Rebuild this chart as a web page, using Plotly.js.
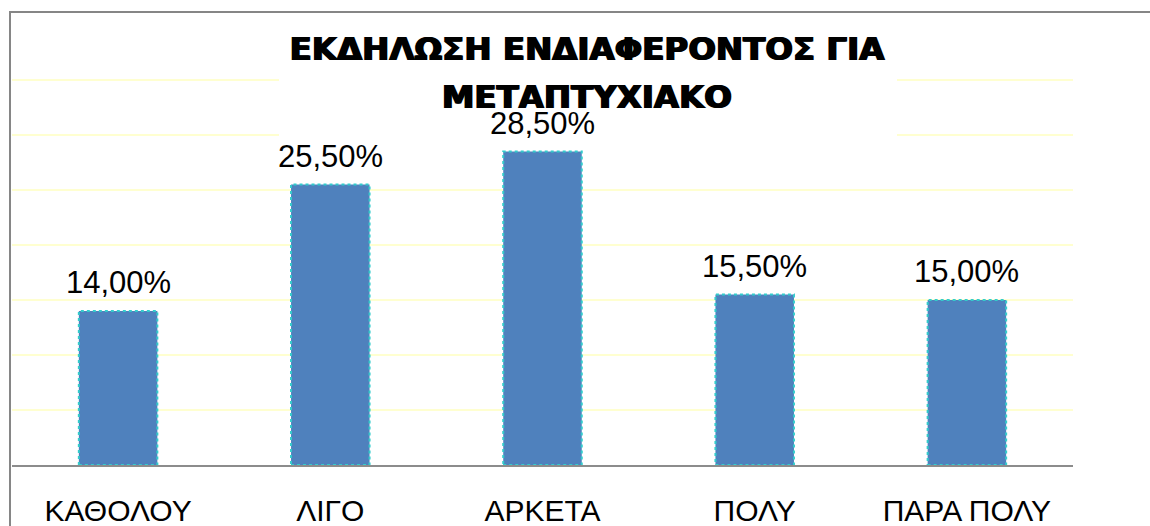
<!DOCTYPE html>
<html>
<head>
<meta charset="utf-8">
<script src="https://cdn.plot.ly/plotly-3.0.1.min.js"></script>
<style>html,body{margin:0;padding:0;background:#fff;}#chart{width:1150px;height:526px;}</style>
</head>
<body>
<div id="chart"></div>
<script>
const categories = ["ΚΑΘΟΛΟΥ", "ΛΙΓΟ", "ΑΡΚΕΤΑ", "ΠΟΛΥ", "ΠΑΡΑ ΠΟΛΥ"];
const values = [14.0, 25.5, 28.5, 15.5, 15.0];
const valueLabels = ["14,00%", "25,50%", "28,50%", "15,50%", "15,00%"];
const titleLine1 = "ΕΚΔΗΛΩΣΗ ΕΝΔΙΑΦΕΡΟΝΤΟΣ ΓΙΑ";
const titleLine2 = "ΜΕΤΑΠΤΥΧΙΑΚΟ";

const plotTop = 79, plotBottom = 465, plotH = plotBottom - plotTop;
const plotL = 12, plotW = 1061;
const py = px => (plotBottom - px) / plotH;   // pixel -> paper y
const pxX = px => (px - plotL) / plotW;      // pixel -> paper x

const halfW = 0.185;
const barShapes = values.map((v, i) => ({
  type: 'rect', xref: 'x', yref: 'y',
  x0: i - halfW, x1: i + halfW, y0: 0, y1: v,
  line: {color: '#33CCCC', width: 2, dash: 'dot'},
  fillcolor: 'rgba(0,0,0,0)', layer: 'above'
}));

const labelAnns = values.map((v, i) => ({
  x: categories[i], y: v, xref: 'x', yref: 'y',
  text: valueLabels[i], showarrow: false,
  yanchor: 'bottom', yshift: 9,
  font: {family: 'Liberation Sans, Arial, sans-serif', size: 31, color: '#000'}
}));

const titleFont = {family: '"DejaVu Sans", Verdana, sans-serif', size: 32.5, weight: 'bold', color: '#000',
                   shadow: '0.9px 0 0 #000, -0.9px 0 0 #000'};

const trace = {
  type: 'bar', x: categories, y: values,
  marker: {color: '#4F81BD', line: {width: 0}},
  hoverinfo: 'skip'
};

const layout = {
  width: 1150, height: 526,
  margin: {l: plotL, r: 1150 - plotL - plotW, t: plotTop, b: 526 - plotBottom},
  paper_bgcolor: '#fff', plot_bgcolor: '#fff',
  bargap: 0.63,
  showlegend: false,
  font: {family: 'Liberation Sans, Arial, sans-serif', color: '#000'},
  title: {
    text: titleLine1,
    font: titleFont,
    x: pxX(587), xanchor: 'center', xref: 'paper',
    y: 1 - 49/526, yanchor: 'middle', yref: 'container'
  },
  xaxis: {
    type: 'category',
    showline: true, linecolor: '#8C8C8C', linewidth: 2,
    ticks: '', showgrid: false, zeroline: false,
    ticklabelstandoff: 18,
    tickfont: {family: 'Liberation Sans, Arial, sans-serif', size: 30, color: '#000'},
    fixedrange: true
  },
  yaxis: {
    range: [0, 35.1], dtick: 5, tick0: 0,
    showgrid: true, gridcolor: '#FFFFD0', gridwidth: 2,
    showticklabels: false, zeroline: false, showline: false, ticks: '',
    fixedrange: true
  },
  shapes: [
    {type: 'rect', xref: 'paper', yref: 'paper',
     x0: pxX(10), x1: 1.2, y0: -0.3, y1: py(12),
     line: {color: '#868686', width: 2}, fillcolor: 'rgba(0,0,0,0)', layer: 'below'},
    {type: 'rect', xref: 'paper', yref: 'paper',
     x0: pxX(279), x1: pxX(897), y0: py(139), y1: py(20),
     line: {width: 0}, fillcolor: '#ffffff', layer: 'above'}
  ].concat(barShapes),
  annotations: [
    {xref: 'paper', yref: 'paper', x: pxX(587), y: py(97), xanchor: 'center', yanchor: 'middle',
     text: titleLine2, showarrow: false, font: titleFont}
  ].concat(labelAnns)
};

Plotly.newPlot('chart', [trace], layout, {displayModeBar: false, staticPlot: true});
</script>
</body>
</html>
